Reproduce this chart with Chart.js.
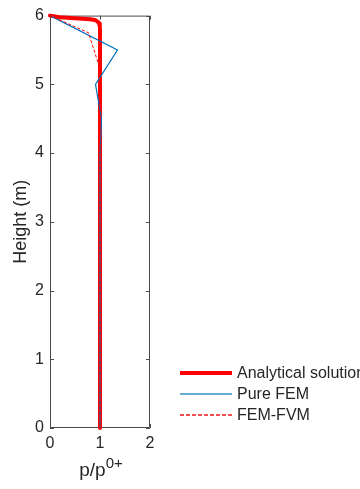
<!DOCTYPE html>
<html>
<head>
<meta charset="utf-8">
<script src="https://cdn.jsdelivr.net/npm/chart.js@4.4.1/dist/chart.umd.min.js"></script>
<style>
  html, body { margin: 0; padding: 0; background: #fff; }
  #wrap { position: relative; width: 360px; height: 489px; overflow: hidden; font-family: "Liberation Sans", Arial, sans-serif; color: #262626; }
  #c { position: absolute; left: 0; top: 0; }
  #xtitle { position: absolute; left: 101px; top: 459px; transform: translateX(-50%); font-size: 19px; white-space: nowrap; }
  #xtitle sup { font-size: 15px; position: relative; top: -1px; vertical-align: super; line-height: 0; }
  #legend { position: absolute; left: 180px; top: 363px; font-size: 16px; }
  .row { position: relative; height: 21px; white-space: nowrap; }
  .sample { position: absolute; left: 0; width: 52px; }
  .s1 { top: 8px; height: 4px; background: #ff0000; }
  .s2 { top: 9px; height: 2px; background: #6aaad6; }
  .s3 { top: 9px; height: 2px; background: repeating-linear-gradient(to right, #f25050 0 4px, transparent 4px 6px); }
  .lbl { position: absolute; left: 57px; top: 1px; line-height: 18px; }
</style>
</head>
<body>
<div id="wrap">
  <canvas id="c" width="360" height="489"></canvas>
  <div id="xtitle">p/p<sup>0+</sup></div>
  <div id="legend">
    <div class="row"><div class="sample s1"></div><div class="lbl">Analytical solution</div></div>
    <div class="row"><div class="sample s2"></div><div class="lbl">Pure FEM</div></div>
    <div class="row"><div class="sample s3"></div><div class="lbl">FEM-FVM</div></div>
  </div>
</div>
<script>
// ---- data ----
const seriesNames = ["Analytical solution", "Pure FEM", "FEM-FVM"];

const analyticalP      = [0, 0.2, 0.5, 0.8, 0.9, 0.95, 0.98, 0.995, 1.0, 1.0];
const analyticalHeight = [6, 5.975, 5.962, 5.948, 5.935, 5.915, 5.89, 5.85, 5.8, 0];

const femP      = [0, 1.35, 0.91, 1.03, 1.0, 1.0];
const femHeight = [6, 5.5, 5.0, 4.5, 4.0, 0];

const fvmP      = [0, 0.77, 0.99, 1.0, 1.0];
const fvmHeight = [6, 5.75, 5.25, 4.75, 0];

const xTickValues = [0, 1, 2];
const yTickValues = [0, 1, 2, 3, 4, 5, 6];

const toPts = (xs, ys) => xs.map((v, i) => ({ x: v, y: ys[i] }));

const axisColor = '#4a4a4a';
const textColor = '#262626';
const fontFamily = '"Liberation Sans", Arial, sans-serif';

const frameTicks = {
  id: 'frameTicks',
  beforeDatasetsDraw(chart) {
    const { ctx, chartArea: a, scales: { x, y } } = chart;
    ctx.save();
    ctx.strokeStyle = axisColor;
    ctx.lineWidth = 1;
    ctx.beginPath();
    ctx.rect(a.left + 0.5, a.top + 0.5, a.right - a.left - 1, a.bottom - a.top - 1);
    const t = 4;
    xTickValues.forEach(v => {
      const px = Math.round(x.getPixelForValue(v)) + 0.5;
      ctx.moveTo(px, a.bottom); ctx.lineTo(px, a.bottom - t);
      ctx.moveTo(px, a.top); ctx.lineTo(px, a.top + t);
    });
    yTickValues.forEach(v => {
      const py = Math.round(y.getPixelForValue(v)) + 0.5;
      ctx.moveTo(a.left, py); ctx.lineTo(a.left + t, py);
      ctx.moveTo(a.right, py); ctx.lineTo(a.right - t, py);
    });
    ctx.stroke();
    ctx.restore();
  }
};

new Chart(document.getElementById('c'), {
  type: 'scatter',
  data: {
    datasets: [
      { label: seriesNames[0], data: toPts(analyticalP, analyticalHeight), showLine: true,
        borderColor: '#ff0000', backgroundColor: '#ff0000', borderWidth: 4, pointRadius: 0,
        borderJoinStyle: 'round', borderCapStyle: 'round', order: 3, clip: 3 },
      { label: seriesNames[1], data: toPts(femP, femHeight), showLine: true,
        borderColor: '#0072bd', backgroundColor: '#0072bd', borderWidth: 1.2, pointRadius: 0, order: 2, clip: 2 },
      { label: seriesNames[2], data: toPts(fvmP, fvmHeight), showLine: true,
        borderColor: '#ff0000', backgroundColor: '#ff0000', borderWidth: 1, borderDash: [3, 2],
        pointRadius: 0, order: 1, clip: 2 }
    ]
  },
  options: {
    responsive: false,
    animation: false,
    events: [],
    layout: { padding: { top: 11, right: 210, left: 0, bottom: 0 } },
    plugins: { legend: { display: false }, tooltip: { enabled: false } },
    scales: {
      x: {
        type: 'linear', min: 0, max: 2,
        afterFit: s => { s.height = 61; },
        afterBuildTicks: s => { s.ticks = xTickValues.map(v => ({ value: v })); },
        ticks: { color: textColor, font: { family: fontFamily, size: 16 }, padding: 6 },
        grid: { display: false, drawTicks: false },
        border: { display: false }
      },
      y: {
        type: 'linear', min: 0, max: 6,
        afterFit: s => { s.width = 50; },
        afterBuildTicks: s => { s.ticks = yTickValues.map(v => ({ value: v })); },
        ticks: { color: textColor, font: { family: fontFamily, size: 16 }, padding: 6 },
        grid: { display: false, drawTicks: false },
        border: { display: false },
        title: { display: true, text: 'Height (m)', color: textColor,
                 font: { family: fontFamily, size: 18 }, padding: { top: 10, bottom: 0 } }
      }
    }
  },
  plugins: [frameTicks]
});
</script>
</body>
</html>
